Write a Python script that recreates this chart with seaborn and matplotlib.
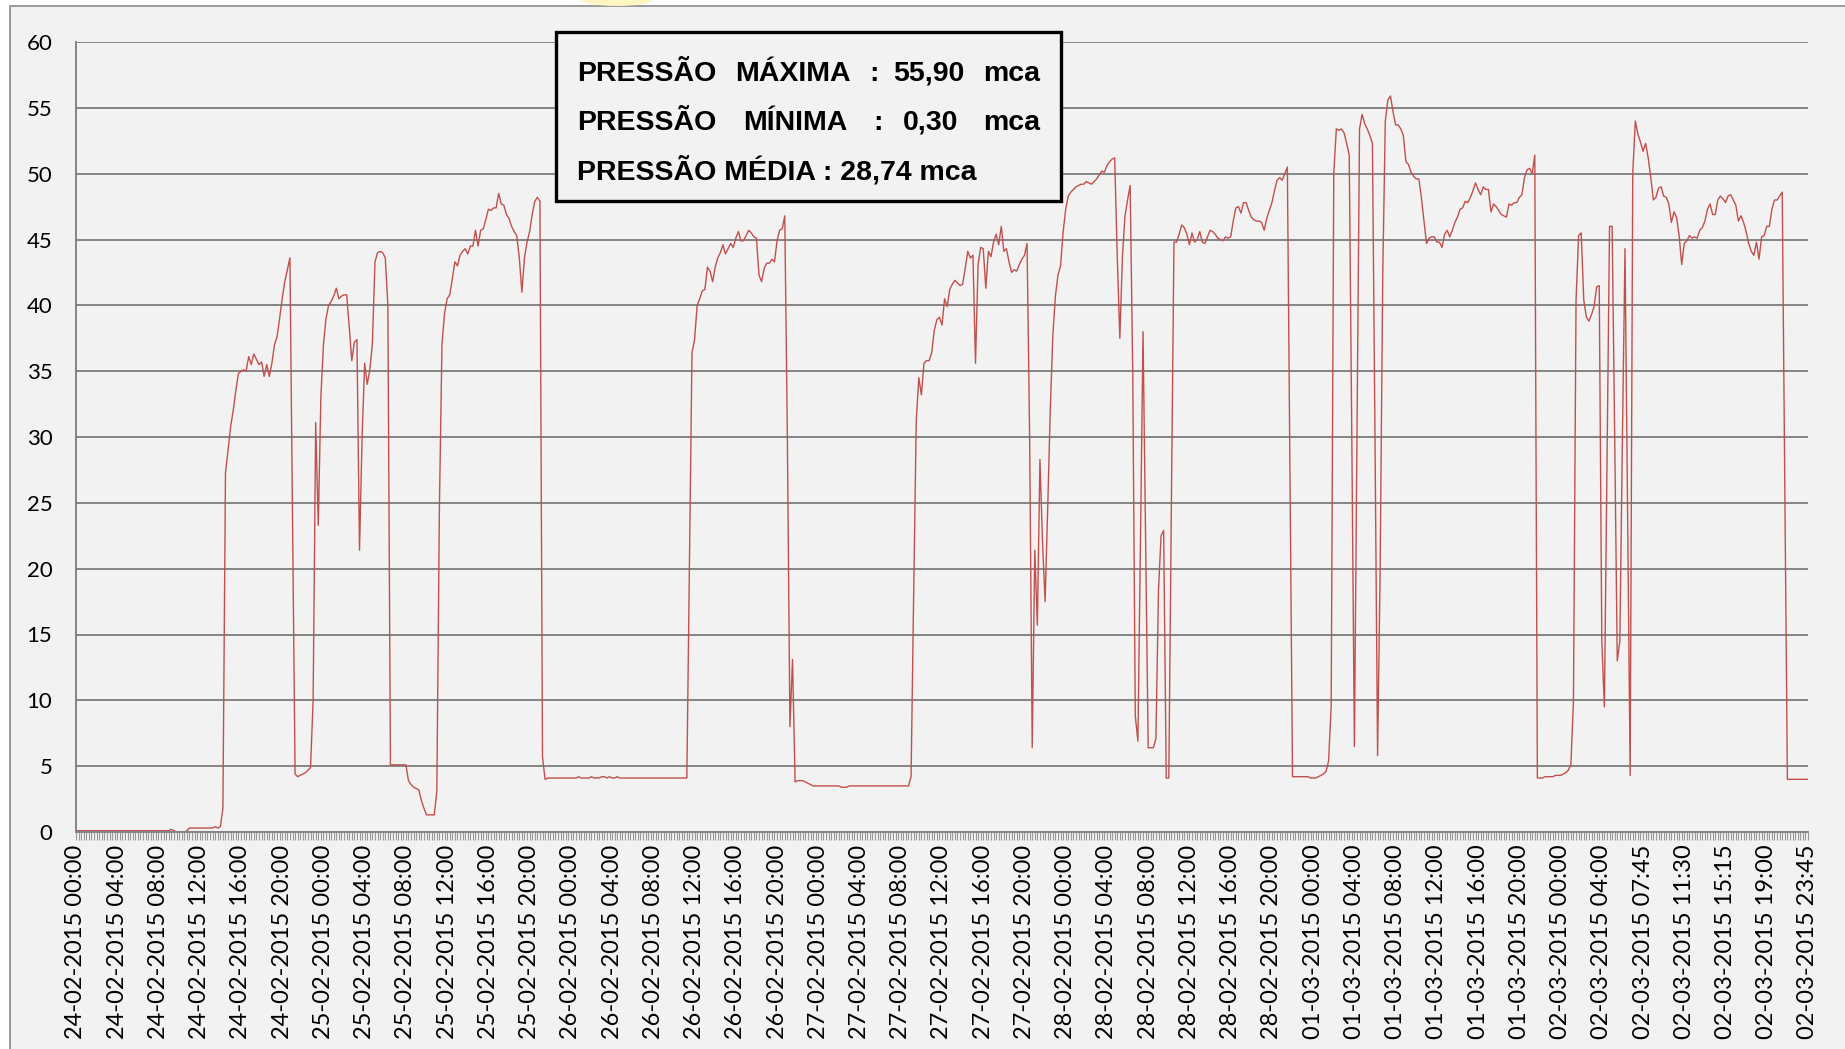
import numpy as np
import pandas as pd
import seaborn as sns
import matplotlib.pyplot as plt
from matplotlib.patches import Rectangle, Ellipse
from matplotlib.ticker import FixedLocator

W, H = 1845, 1049

# pressure readings (mca), one every 15 minutes
day_24_02 = [
    0.1, 0.1, 0.1, 0.1, 0.1, 0.1, 0.1, 0.1, 0.1, 0.1, 0.1, 0.1,
    0.1, 0.1, 0.1, 0.1, 0.1, 0.1, 0.1, 0.1, 0.1, 0.1, 0.1, 0.1,
    0.1, 0.1, 0.1, 0.1, 0.1, 0.1, 0.1, 0.1, 0.1, 0.1, 0.1, 0.1,
    0.1, 0.2, 0.1, 0.0, 0.0, 0.0, 0.0, 0.1, 0.3, 0.3,
    0.3, 0.3, 0.3, 0.3, 0.3, 0.3, 0.3, 0.3, 0.4, 0.3,
    0.4, 1.8, 27.3, 29.0, 30.8, 32.0, 33.5, 34.8, 35.0, 35.1,
    35.0, 36.1, 35.5, 36.3, 35.9, 35.5, 35.7, 34.6, 35.5, 34.6,
    35.6, 37.0, 37.6, 39.0, 40.5, 41.8, 42.7, 43.6, 24.0, 4.4,
    4.2, 4.3, 4.4, 4.5, 4.7, 4.9, 10.0, 31.1, 23.3, 33.0,
]
day_25_02 = [
    37.0, 39.0, 40.0, 40.3, 40.7, 41.3, 40.5, 40.7, 40.8, 40.8,
    38.4, 35.8, 37.2, 37.4, 21.4, 30.0, 35.6, 34.0, 35.1, 37.1,
    43.3, 44.0, 44.1, 44.0, 43.6, 40.0, 5.1, 5.1, 5.1, 5.1,
    5.1, 5.1, 5.1, 3.9, 3.6, 3.4, 3.3, 3.2, 2.4, 1.8,
    1.3, 1.3, 1.3, 1.3, 3.1, 24.7, 37.1, 39.4, 40.5, 40.8,
    42.0, 43.3, 43.0, 43.8, 44.1, 44.3, 43.9, 44.5, 44.5, 45.7,
    44.5, 45.7, 45.8, 46.5, 47.3, 47.2, 47.4, 47.4, 48.5, 47.7,
    47.6, 46.9, 46.6, 46.0, 45.6, 45.3, 43.6, 41.0, 43.6, 44.8,
    45.6, 46.9, 47.9, 48.2, 47.9, 5.7, 4.0, 4.1, 4.1, 4.1,
    4.1, 4.1, 4.1, 4.1, 4.1, 4.1,
]
day_26_02 = [
    4.1, 4.1, 4.1, 4.2, 4.1, 4.1, 4.1, 4.1, 4.2, 4.1,
    4.1, 4.1, 4.2, 4.2, 4.1, 4.2, 4.1, 4.1, 4.2, 4.1,
    4.1, 4.1, 4.1, 4.1, 4.1, 4.1, 4.1, 4.1, 4.1, 4.1,
    4.1, 4.1, 4.1, 4.1, 4.1, 4.1, 4.1, 4.1, 4.1, 4.1,
    4.1, 4.1, 4.1, 4.1, 4.1, 4.1,
    20.0, 36.4, 37.4, 40.0, 40.5, 41.1, 41.2, 42.9, 42.6, 41.8,
    42.9, 43.6, 44.0, 44.6, 43.9, 44.3, 44.7, 44.4, 45.1, 45.6,
    44.9, 44.9, 45.3, 45.7, 45.5, 45.2, 45.1, 42.3, 41.8, 42.8,
    43.2, 43.2, 43.5, 43.3, 44.9, 45.7, 45.8, 46.8, 30.0, 8.0,
    13.1, 3.8, 3.9, 3.9, 3.9, 3.8, 3.7, 3.6, 3.5, 3.5,
]
day_27_02 = [
    3.5, 3.5, 3.5, 3.5, 3.5, 3.5, 3.5, 3.5, 3.5, 3.4,
    3.4, 3.4, 3.5, 3.5, 3.5, 3.5, 3.5, 3.5, 3.5, 3.5,
    3.5, 3.5, 3.5, 3.5, 3.5, 3.5, 3.5, 3.5, 3.5, 3.5,
    3.5, 3.5, 3.5, 3.5, 3.5,
    3.5, 4.2, 18.0, 31.2, 34.5, 33.2, 35.6, 35.8, 35.8, 36.4,
    38.1, 38.9, 39.1, 38.5, 40.5, 39.9, 41.2, 41.6, 41.9, 41.7,
    41.5, 41.6, 42.8, 44.1, 43.6, 43.8, 35.6, 43.1, 44.4, 44.3,
    41.3, 44.1, 43.7, 44.8, 45.4, 44.6, 46.0, 44.1, 44.3, 43.3,
    42.5, 42.7, 42.6, 43.1, 43.5, 43.8, 44.7, 30.0, 6.4, 21.4,
    15.7, 28.3, 22.0, 17.5, 24.5, 32.0, 37.7, 40.7, 42.3, 43.0, 45.6,
]
day_28_02 = [
    47.3, 48.3, 48.6, 48.8, 49.0, 49.1, 49.2, 49.2, 49.4, 49.3,
    49.2, 49.4, 49.6, 49.9, 50.2, 50.1, 50.6, 50.9, 51.1, 51.2,
    43.7, 37.5, 43.7, 46.8, 48.0, 49.1, 35.0, 8.8, 6.9, 22.0,
    38.0, 22.0, 6.4, 6.4, 6.4, 7.1, 18.4, 22.5, 22.9, 4.1,
    4.1, 25.0, 44.8, 44.8, 45.4, 46.1, 45.9, 45.4, 44.6, 45.5,
    44.8, 45.0, 45.6, 44.8, 44.7, 45.2, 45.7, 45.6, 45.4, 45.1,
    45.0, 44.9, 45.2, 45.1, 45.2, 46.4, 47.4, 47.5, 47.0, 47.8,
    47.8, 47.2, 46.7, 46.5, 46.4, 46.4, 46.3, 45.7, 46.6, 47.2,
    47.8, 48.7, 49.5, 49.7, 49.5, 50.0, 50.5, 27.0, 4.2, 4.2,
    4.2, 4.2, 4.2, 4.2, 4.2, 4.1,
]
day_01_03 = [
    4.1, 4.1, 4.2, 4.3, 4.4, 4.6, 5.4, 9.6, 50.0, 53.4,
    53.3, 53.4, 53.1, 52.3, 51.4, 30.0, 6.5, 30.0, 53.4, 54.5,
    53.8, 53.4, 52.9, 52.3, 30.0, 5.8, 20.0, 42.3, 54.0, 55.6,
    55.9, 54.7, 53.7, 53.7, 53.4, 52.9, 50.9, 50.7, 50.1, 49.8,
    49.6, 49.6, 48.2, 46.4, 44.7, 45.1, 45.2, 45.2, 44.8, 44.8,
    44.4, 45.4, 45.7, 45.2, 45.7, 46.3, 46.7, 47.3, 47.4, 47.9,
    47.8, 48.2, 48.7, 49.3, 48.8, 48.4, 49.0, 48.8, 48.8, 47.1,
    47.7, 47.5, 47.2, 46.9, 46.8, 46.7, 47.7, 47.6, 47.8, 47.8,
    48.2, 48.4, 49.7, 50.3, 50.4, 50.0, 51.4, 4.1, 4.1, 4.1,
    4.2, 4.2, 4.2, 4.2, 4.3, 4.3,
]
day_02_03 = [
    4.3, 4.4, 4.5, 4.7, 5.1, 10.0, 40.4, 45.3, 45.5, 40.4,
    39.1, 38.8, 39.3, 39.9, 41.4, 41.5, 14.5, 9.5, 28.0, 46.0,
    46.0, 30.0, 13.0, 14.5, 30.0, 44.3, 24.0, 4.3, 50.0, 54.0,
    53.0, 52.4, 51.7, 52.3, 51.2, 49.7, 48.0, 48.2, 48.9, 49.0,
    48.3, 48.2, 47.7, 46.3, 47.1, 46.7, 45.3, 43.1, 44.7, 44.9,
    45.3, 45.1, 45.2, 45.1, 45.7, 45.9, 46.4, 47.3, 47.7, 46.9,
    46.9, 48.0, 48.3, 48.1, 47.8, 48.3, 48.4, 48.0, 47.6, 46.4,
    46.8, 46.3, 45.6, 44.7, 44.1, 43.8, 44.8, 43.5, 45.2, 45.3,
    46.0, 46.0, 47.3, 48.0, 48.0, 48.3, 48.6, 26.0, 4.0, 4.0,
    4.0, 4.0, 4.0, 4.0, 4.0, 4.0, 4.0,
]

tick_days = ["24-02-2015", "25-02-2015", "26-02-2015",
             "27-02-2015", "28-02-2015", "01-03-2015"]
tick_hours = ["00:00", "04:00", "08:00", "12:00", "16:00", "20:00"]
last_day_ticks = ["02-03-2015 00:00", "02-03-2015 04:00", "02-03-2015 07:45",
                  "02-03-2015 11:30", "02-03-2015 15:15", "02-03-2015 19:00",
                  "02-03-2015 23:45"]
label_step = 16

# summary box, one list of words per line
line_max = ["PRESSÃO", "MÁXIMA", ":", "55,90", "mca"]
line_min = ["PRESSÃO", "MÍNIMA", ":", "0,30", "mca"]
line_avg = "PRESSÃO MÉDIA : 28,74 mca"

pressure = day_24_02 + day_25_02 + day_26_02 + day_27_02 + day_28_02 + day_01_03 + day_02_03
df = pd.DataFrame({"idx": np.arange(len(pressure)), "pressao": pressure})
tick_labels = [f"{d} {h}" for d in tick_days for h in tick_hours] + last_day_ticks
tick_pos = np.arange(0, len(pressure), label_step)

sns.set_style("white")
plt.rcParams["font.family"] = ["Lato", "DejaVu Sans"]
plt.rcParams["text.color"] = "black"

grid_col = "#858585"
bg = "#f2f2f2"

fig = plt.figure(figsize=(W / 100, H / 100), dpi=100, facecolor="white")

# chart area (border only visible on top / left edge)
fig.patches.append(Rectangle((9.5 / W, -0.05), 1.0, 1.05 - 5.7 / H, transform=fig.transFigure,
                             facecolor=bg, edgecolor="#8a8a8a", lw=1.2, zorder=-2))
fig.patches.append(Ellipse((617 / W, 1.0), 70 / W, 12 / H, transform=fig.transFigure,
                           facecolor="#fdf6c3", edgecolor="none", zorder=-1))

ax = fig.add_axes([76 / W, 1 - 832 / H, (1808 - 76) / W, (832 - 42) / H])
ax.set_facecolor(bg)

sns.lineplot(data=df, x="idx", y="pressao", ax=ax, color="#c0504d",
             linewidth=1.0, estimator=None)

ax.set_xlim(0, len(pressure) - 1)
ax.set_ylim(0, 60)
ax.set_xlabel("")
ax.set_ylabel("")

ax.set_yticks(range(0, 61, 5))
ax.yaxis.grid(True, color=grid_col, lw=1.4)
ax.xaxis.grid(False)
ax.set_axisbelow(True)

ax.set_xticks(tick_pos)
ax.set_xticklabels(tick_labels, rotation=90)
ax.xaxis.set_minor_locator(FixedLocator(np.arange(len(pressure))))

for side in ["top", "right"]:
    ax.spines[side].set_visible(False)
for side in ["left", "bottom"]:
    ax.spines[side].set_color(grid_col)
    ax.spines[side].set_linewidth(1.4)

ax.tick_params(axis="y", which="major", length=6, width=1.4, color=grid_col,
               pad=11, labelsize=16, labelcolor="black")
ax.tick_params(axis="x", which="both", direction="out", length=6, width=0.8,
               color="#9a9a9a", bottom=True)
ax.tick_params(axis="x", which="major", pad=3, labelsize=17, labelcolor="black")

# summary box
fig.patches.append(Rectangle((556 / W, 1 - 201 / H), (1060.7 - 556) / W, (201 - 32) / H,
                             transform=fig.transFigure, facecolor=bg,
                             edgecolor="black", lw=2.4, zorder=2))
box_font = dict(fontsize=20.5, fontweight="bold", family=["Liberation Sans", "DejaVu Sans"],
                color="black", va="baseline", ha="left", zorder=3)
for word, x in zip(line_max, [577.3, 735, 869.3, 893.3, 982.7]):
    fig.text(x / W, 1 - 80.7 / H, word, **box_font)
for word, x in zip(line_min, [577.3, 742.7, 873.3, 903.3, 982.7]):
    fig.text(x / W, 1 - 130 / H, word, **box_font)
fig.text(577.3 / W, 1 - 180 / H, line_avg, **box_font)

fig.savefig("out.png", dpi=100, facecolor=fig.get_facecolor())
